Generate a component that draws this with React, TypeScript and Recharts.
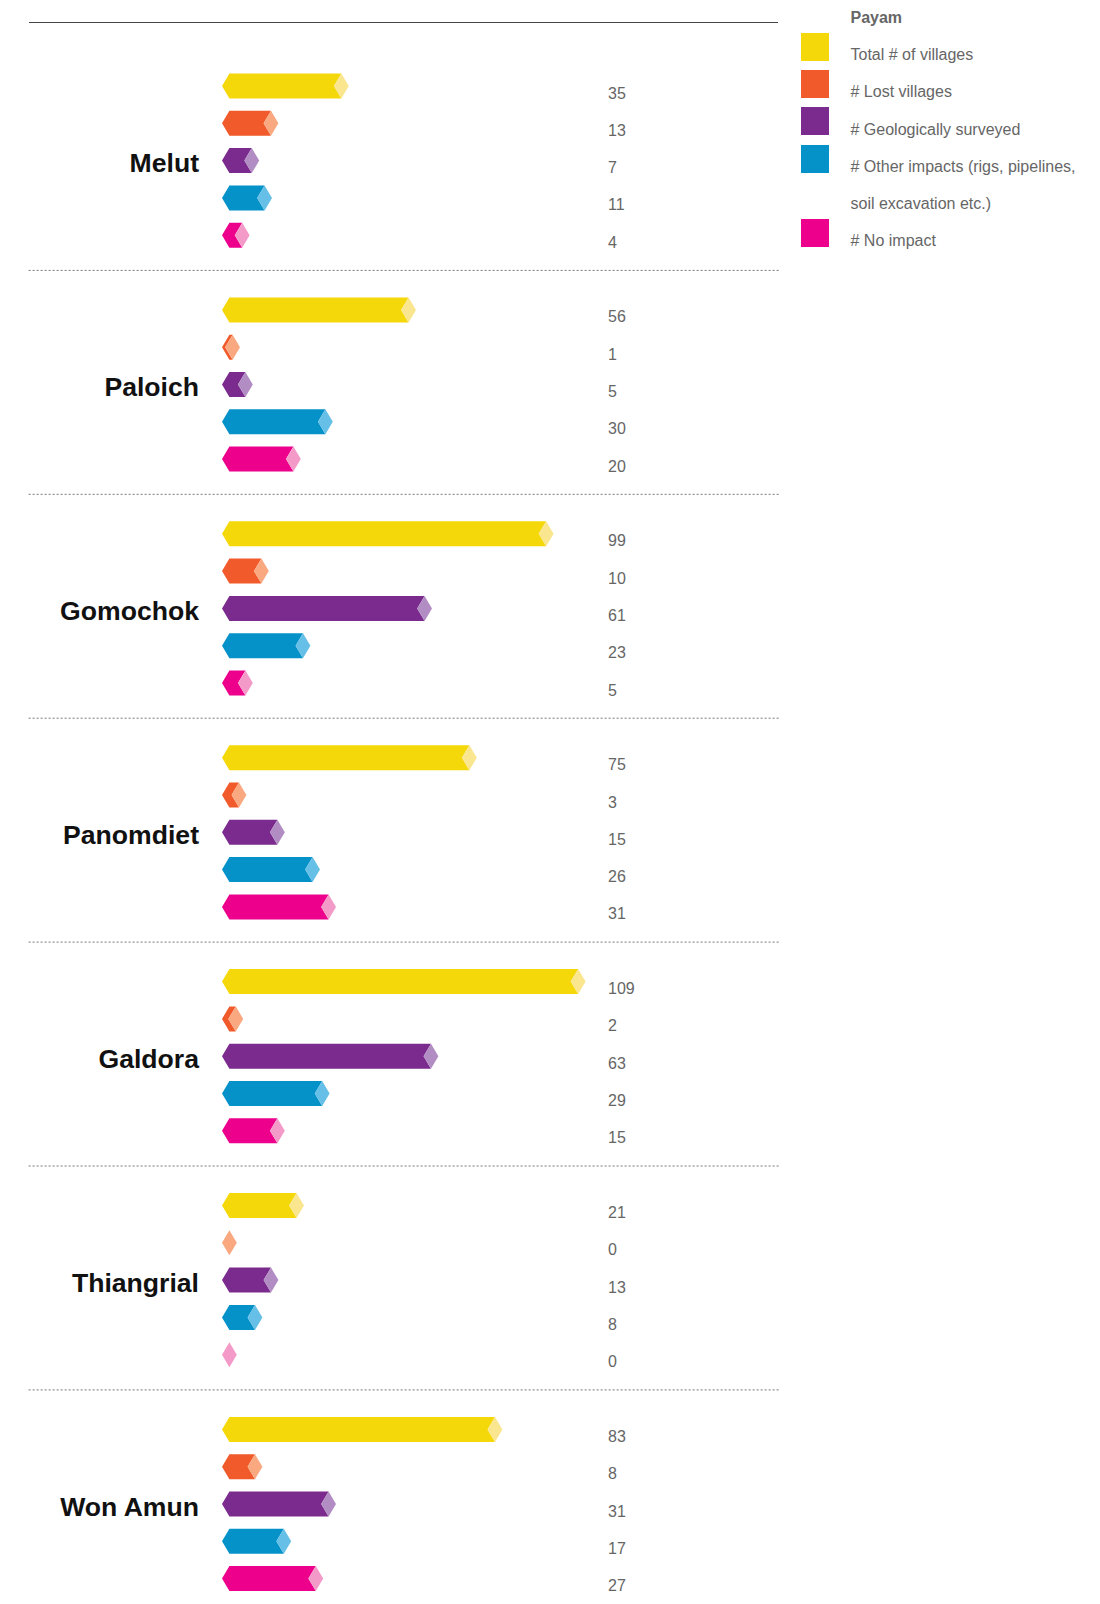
import { BarChart, Bar, XAxis, YAxis, CartesianGrid, LabelList, Legend } from 'recharts'

const groups = ['Melut', 'Paloich', 'Gomochok', 'Panomdiet', 'Galdora', 'Thiangrial', 'Won Amun']
const totalVillages = [35, 56, 99, 75, 109, 21, 83]
const lostVillages = [13, 1, 10, 3, 2, 0, 8]
const geoSurveyed = [7, 5, 61, 15, 63, 13, 31]
const otherImpacts = [11, 30, 23, 26, 29, 8, 17]
const noImpact = [4, 20, 5, 31, 15, 0, 27]

const seriesKeys = ['total', 'lost', 'geo', 'other', 'none']
const seriesNames = [
  'Total # of villages',
  '# Lost villages',
  '# Geologically surveyed',
  '# Other impacts (rigs, pipelines,\nsoil excavation etc.)',
  '# No impact',
]
const seriesColors = ['#f5d80a', '#f15a2b', '#7b2b8e', '#0592c9', '#ec008c']
const seriesTints = ['#fae68e', '#f9a880', '#b28dc3', '#66bfe6', '#f49ac8']

const data = groups.map((name, i) => ({
  name,
  total: totalVillages[i],
  lost: lostVillages[i],
  geo: geoSurveyed[i],
  other: otherImpacts[i],
  none: noImpact[i],
}))

const FONT = '"Liberation Sans", Arial, Helvetica, sans-serif'
const TIP = 7.4
const ROW = 37.3

// hexagonal bar: dark body with a pale diamond cap at the value end
function HexBar(props: any) {
  const { x, y, width, height, fill, tint } = props
  const mid = y + height / 2
  const end = x + Math.max(width || 0, 0)
  const body =
    end > x
      ? `M${x},${mid} L${x + TIP},${y} L${end + TIP},${y} L${end},${mid} L${end + TIP},${y + height} L${x + TIP},${y + height} Z`
      : ''
  const cap = `M${end},${mid} L${end + TIP},${y} L${end + 2 * TIP},${mid} L${end + TIP},${y + height} Z`
  return (
    <g>
      {body && <path d={body} fill={fill} />}
      <path d={cap} fill={tint} />
    </g>
  )
}

function ValueLabel(props: any) {
  const vb = props.viewBox ?? props
  return (
    <text x={vb.x + 386} y={vb.y + vb.height / 2 + 12.5} fontSize={16} fill="#666" fontFamily={FONT}>
      {props.value}
    </text>
  )
}

function GroupTick(props: any) {
  const { x, y, payload } = props
  return (
    <text x={x} y={y} dy={11.8} textAnchor="end" fontSize={26.6} fontWeight={700} fill="#111" fontFamily={FONT}>
      {payload.value}
    </text>
  )
}

function LegendBlock(props: any) {
  const payload = props.payload ?? []
  let line = 1
  return (
    <div style={{ position: 'relative', width: 320, height: 260, fontFamily: FONT, color: '#666', fontSize: 16 }}>
      <div style={{ position: 'absolute', left: 70.5, top: -1.4, lineHeight: `${ROW}px`, fontWeight: 700 }}>Payam</div>
      {payload.map((entry: any, i: number) => {
        const k = line
        const label = String(entry.value)
        line += label.split('\n').length
        return (
          <div key={i}>
            <div
              style={{
                position: 'absolute',
                left: 21,
                top: -4.7 + ROW * k,
                width: 28,
                height: 28,
                background: entry.color,
              }}
            />
            <div
              style={{
                position: 'absolute',
                left: 70.5,
                top: -1.4 + ROW * k,
                lineHeight: `${ROW}px`,
                whiteSpace: 'pre',
              }}
            >
              {label}
            </div>
          </div>
        )
      })}
    </div>
  )
}

// dotted separators sit on the boundaries between payam bands
const bandBoundaries = ({ offset }: any) => {
  const band = offset.height / groups.length
  return groups.slice(1).map((_, i) => offset.top + band * (i + 1) - 2)
}

export default function App() {
  return (
    <div
      style={{
        position: 'absolute',
        top: 0,
        left: 0,
        width: 1100,
        height: 1604,
        overflow: 'hidden',
        background: '#fff',
        fontFamily: FONT,
      }}
    >
      <div style={{ position: 'absolute', top: 22, left: 29, width: 749, borderTop: '1.5px solid #444' }} />
      <BarChart
        width={1100}
        height={1620}
        data={data}
        layout="vertical"
        margin={{ top: 48.5, right: 398, bottom: 4.2, left: 0 }}
        barSize={25}
        barGap={12.3}
      >
        <CartesianGrid
          x={28.6}
          width={751.4}
          vertical={false}
          stroke="#777"
          strokeDasharray="2 2"
          horizontalCoordinatesGenerator={bandBoundaries}
        />
        <XAxis type="number" domain={[0, 150]} hide />
        <YAxis
          type="category"
          dataKey="name"
          width={222}
          axisLine={false}
          tickLine={false}
          tickSize={0}
          tickMargin={23}
          interval={0}
          tick={<GroupTick />}
        />
        <Legend
          layout="vertical"
          align="center"
          verticalAlign="middle"
          itemSorter={(item: any) => seriesKeys.indexOf(String(item.dataKey))}
          wrapperStyle={{ top: 0, left: 780, width: 320, height: 260 }}
          content={<LegendBlock />}
        />
        {seriesKeys.map((key, i) => (
          <Bar
            key={key}
            dataKey={key}
            name={seriesNames[i]}
            fill={seriesColors[i]}
            isAnimationActive={false}
            shape={(p: any) => <HexBar {...p} tint={seriesTints[i]} />}
          >
            <LabelList dataKey={key} content={<ValueLabel />} />
          </Bar>
        ))}
      </BarChart>
    </div>
  )
}
